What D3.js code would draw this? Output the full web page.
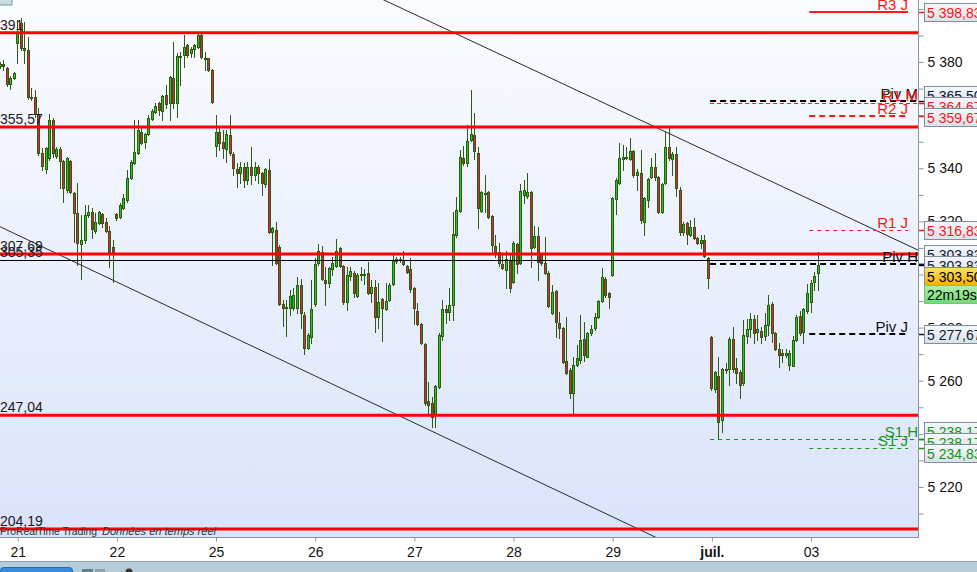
<!DOCTYPE html>
<html><head><meta charset="utf-8">
<script src="https://cdn.jsdelivr.net/npm/d3@7/dist/d3.min.js"></script>
<style>
html,body{margin:0;padding:0;background:#fff;overflow:hidden;}
svg{display:block;font-family:"Liberation Sans",Arial,sans-serif;}
</style></head><body>
<svg id="chart" width="977" height="572"></svg>
<script>
// ---------- DATA ----------
const opens = [5378.5,5379.2,5377.7,5371.7,5374.0,5387.1,5394.7,5385.2,5384.5,5366.8,
5366.8,5360.4,5345.7,5339.7,5343.8,5358.1,5344.6,5347.2,5342.7,5331.8,
5342.7,5330.6,5323.1,5311.4,5312.9,5322.4,5323.5,5316.3,5319.3,5322.8,
5319.7,5316.3,5310.3,5322.8,5321.6,5325.0,5328.0,5336.3,5341.9,5345.7,
5353.6,5349.8,5352.8,5358.5,5361.1,5364.5,5361.5,5367.5,5364.5,5373.9,
5364.5,5381.8,5382.6,5386.4,5383.3,5384.9,5385.6,5390.1,5381.5,5381.5,
5377.0,5348.3,5353.6,5349.8,5347.2,5352.5,5345.3,5339.7,5338.2,5340.4,
5335.5,5340.4,5337.4,5340.4,5338.2,5334.0,5339.3,5316.0,5316.7,5310.3,
5288.9,5287.3,5287.3,5287.3,5287.3,5296.0,5284.7,5272.3,5276.4,5288.9,
5304.3,5308.4,5297.9,5296.8,5302.0,5303.1,5309.9,5303.1,5289.6,5299.4,
5300.5,5291.9,5299.8,5300.1,5300.5,5293.0,5295.2,5283.9,5290.7,5287.0,
5290.4,5296.4,5305.0,5305.8,5305.4,5303.1,5302.0,5294.9,5286.2,5281.3,
5273.8,5252.3,5251.6,5247.1,5257.6,5276.8,5287.0,5285.8,5288.5,5314.8,
5323.9,5343.8,5341.9,5350.6,5352.5,5345.7,5323.9,5330.3,5331.0,5322.0,
5310.7,5308.4,5303.9,5301.7,5305.4,5297.1,5311.4,5304.3,5329.9,5329.5,
5331.0,5310.3,5314.5,5307.3,5304.3,5300.5,5285.5,5293.7,5281.7,5279.8,
5267.4,5264.0,5255.3,5265.9,5267.8,5275.7,5268.9,5277.9,5279.8,5283.9,
5290.0,5298.3,5293.0,5299.8,5328.4,5334.4,5343.4,5344.2,5343.4,5346.5,
5337.4,5338.2,5319.7,5328.0,5336.7,5340.4,5336.7,5323.5,5334.4,5348.0,
5343.4,5345.3,5331.8,5316.0,5319.3,5314.8,5317.8,5313.7,5311.8,5313.0,
5306.2,5276.4,5256.9,5261.8,5245.2,5264.4,5264.4,5275.7,5264.8,5263.2,
5259.1,5276.8,5279.4,5283.2,5278.3,5278.7,5276.8,5280.9,5288.9,5278.0,
5271.9,5270.4,5269.7,5265.9,5265.5,5275.3,5284.3,5278.3,5286.2,5289.6,
5297.1,5300.5];
const highs = [5380.0,5380.8,5378.1,5374.7,5376.2,5395.8,5396.5,5395.0,5389.4,5370.2,
5369.4,5362.6,5347.6,5348.0,5360.4,5358.9,5348.0,5348.0,5343.1,5344.2,
5343.1,5330.9,5334.4,5322.4,5326.1,5326.1,5325.0,5323.1,5323.8,5323.1,
5321.2,5318.2,5313.0,5323.1,5326.9,5330.3,5339.3,5343.1,5358.1,5358.1,
5355.1,5353.2,5360.0,5362.3,5364.5,5364.9,5367.5,5371.3,5374.7,5387.5,
5383.3,5383.7,5390.1,5386.7,5385.6,5386.6,5390.9,5390.9,5383.7,5381.7,
5377.3,5360.0,5355.1,5354.4,5354.4,5360.0,5346.1,5341.9,5342.3,5341.9,
5342.3,5348.0,5342.3,5341.2,5338.5,5340.0,5343.4,5317.8,5319.7,5311.1,
5290.4,5290.4,5294.1,5294.9,5299.0,5298.3,5285.8,5277.9,5297.9,5306.2,
5311.4,5310.7,5302.8,5302.8,5306.5,5313.3,5310.3,5303.5,5302.8,5302.8,
5301.3,5300.5,5302.8,5302.0,5304.7,5297.9,5297.9,5296.8,5291.1,5296.8,
5296.8,5307.3,5306.5,5306.5,5308.8,5303.5,5306.2,5295.2,5289.2,5281.7,
5274.2,5259.5,5253.8,5258.3,5277.9,5290.4,5288.5,5294.9,5323.5,5329.1,
5346.8,5348.3,5356.2,5369.4,5360.8,5348.0,5331.4,5337.4,5331.4,5322.4,
5314.8,5311.8,5308.0,5308.8,5307.3,5312.6,5311.8,5334.0,5335.5,5338.2,
5331.4,5318.2,5317.8,5308.0,5314.1,5301.3,5296.0,5294.1,5285.8,5280.2,
5284.0,5264.8,5268.9,5273.4,5284.7,5282.1,5278.3,5280.9,5285.5,5290.4,
5302.4,5299.0,5293.4,5329.1,5336.3,5349.5,5348.7,5348.0,5351.3,5346.8,
5339.7,5346.8,5329.1,5336.3,5343.8,5345.7,5337.0,5334.4,5353.6,5355.1,
5346.1,5348.0,5332.9,5319.7,5319.7,5320.5,5321.2,5314.1,5314.8,5314.8,
5306.5,5276.8,5263.6,5268.9,5264.8,5266.6,5276.4,5280.2,5268.5,5264.0,
5282.8,5283.2,5285.5,5284.7,5284.7,5280.2,5285.5,5292.2,5289.6,5278.3,
5274.2,5271.9,5271.9,5271.5,5276.8,5284.7,5286.2,5287.3,5296.4,5297.9,
5300.9,5308.4];
const lows = [5377.7,5377.0,5371.0,5369.8,5373.6,5379.6,5384.5,5379.6,5366.1,5365.7,
5359.3,5345.0,5339.3,5338.2,5343.1,5344.2,5343.8,5332.5,5327.2,5331.0,
5330.6,5312.2,5303.5,5298.3,5311.8,5321.6,5313.7,5315.6,5319.0,5317.8,
5316.0,5302.8,5297.1,5320.5,5321.4,5324.6,5327.2,5335.9,5341.6,5345.3,
5349.1,5347.6,5352.5,5358.1,5360.8,5360.0,5358.1,5362.6,5358.1,5362.6,
5359.3,5371.3,5378.1,5381.8,5381.8,5381.8,5385.2,5381.5,5377.0,5376.6,
5364.5,5344.6,5346.8,5343.8,5342.3,5344.9,5337.4,5332.9,5334.4,5332.9,
5334.0,5334.0,5335.5,5334.4,5329.9,5332.9,5315.6,5303.5,5303.9,5288.5,
5280.6,5276.8,5284.7,5286.6,5285.5,5279.8,5270.0,5271.9,5274.2,5288.1,
5303.5,5297.9,5288.5,5295.2,5299.8,5302.8,5302.8,5288.9,5286.6,5297.9,
5291.5,5291.5,5297.9,5296.4,5292.6,5289.6,5278.3,5279.8,5274.9,5286.6,
5290.0,5296.0,5304.3,5304.7,5303.5,5300.5,5293.4,5281.3,5280.9,5273.8,
5250.8,5247.1,5242.5,5242.5,5257.2,5275.3,5281.7,5282.9,5282.9,5314.1,
5323.5,5341.2,5340.8,5350.2,5343.4,5317.5,5323.5,5323.5,5321.2,5308.0,
5306.5,5303.1,5302.0,5294.9,5293.4,5296.8,5300.5,5303.9,5326.9,5328.8,
5302.8,5309.9,5297.9,5303.5,5300.1,5287.7,5285.1,5276.4,5276.0,5266.7,
5262.5,5253.5,5247.1,5265.5,5266.7,5267.4,5268.9,5277.2,5279.1,5283.5,
5289.6,5291.5,5287.3,5299.4,5322.7,5334.0,5339.3,5343.4,5343.1,5336.7,
5331.8,5319.3,5314.8,5325.4,5336.3,5335.5,5323.1,5323.1,5334.0,5343.1,
5337.4,5329.5,5314.8,5314.8,5311.4,5314.4,5313.3,5311.4,5309.9,5306.5,
5294.9,5256.5,5255.7,5238.0,5240.7,5262.9,5258.4,5263.2,5259.1,5253.5,
5258.4,5274.2,5276.4,5274.2,5275.3,5274.2,5275.3,5277.2,5274.5,5271.5,
5265.1,5267.0,5268.9,5264.0,5265.5,5274.9,5277.2,5274.2,5285.5,5285.8,
5294.2,5294.2];
const closes = [5379.2,5378.5,5371.7,5374.0,5375.9,5390.9,5385.2,5384.5,5366.8,5366.6,
5360.4,5345.7,5340.8,5347.6,5358.1,5345.7,5347.2,5342.7,5332.5,5343.8,
5331.0,5323.1,5311.8,5312.9,5322.4,5323.5,5317.1,5319.7,5323.5,5319.3,
5316.3,5308.4,5308.4,5321.2,5326.1,5328.8,5336.3,5342.3,5346.1,5354.4,
5349.5,5352.8,5358.9,5361.5,5363.4,5361.9,5367.2,5364.2,5374.3,5364.5,
5382.2,5382.2,5385.6,5382.6,5384.9,5386.4,5390.1,5381.8,5381.1,5377.0,
5364.9,5353.6,5349.5,5347.6,5352.8,5345.7,5340.1,5338.2,5340.4,5335.5,
5340.4,5337.4,5340.4,5338.2,5334.4,5339.7,5316.0,5317.5,5304.3,5288.9,
5287.3,5287.7,5291.9,5292.2,5296.0,5285.5,5272.3,5277.2,5287.0,5303.9,
5308.8,5298.3,5296.8,5302.4,5304.3,5308.8,5303.1,5289.6,5299.8,5301.3,
5293.0,5299.8,5300.1,5299.8,5293.0,5295.2,5283.9,5289.6,5287.3,5290.0,
5296.0,5305.4,5305.8,5305.4,5303.9,5300.9,5294.5,5287.3,5281.3,5274.2,
5251.6,5250.8,5246.3,5258.0,5277.2,5287.0,5285.8,5288.5,5315.2,5324.3,
5344.2,5341.9,5350.2,5352.8,5346.5,5325.0,5331.0,5330.6,5321.6,5311.1,
5308.4,5304.3,5302.4,5305.8,5294.9,5311.8,5303.9,5331.4,5331.8,5331.0,
5309.9,5314.5,5304.7,5304.3,5300.5,5288.1,5293.4,5282.1,5279.8,5267.0,
5262.9,5255.3,5265.9,5268.5,5275.3,5269.7,5277.9,5279.4,5283.9,5290.0,
5299.0,5292.2,5291.5,5328.8,5335.5,5343.8,5344.2,5344.0,5346.5,5337.4,
5338.5,5320.5,5328.8,5335.9,5340.4,5336.7,5323.5,5334.0,5348.0,5343.8,
5345.3,5332.5,5316.0,5319.0,5315.2,5317.8,5313.7,5311.8,5313.0,5306.9,
5298.6,5257.2,5263.3,5244.4,5264.4,5264.0,5275.7,5264.4,5262.9,5258.3,
5277.2,5279.4,5283.2,5277.9,5279.4,5276.4,5280.9,5288.5,5278.0,5271.9,
5269.7,5269.7,5270.4,5270.4,5275.3,5284.0,5277.9,5287.0,5293.0,5296.8,
5299.4,5303.5];

const dayLabels = ["21","22","25","26","27","28","29","juil.","03"];
const dayStarts = [5,33,61,89,117,145,173,201,229];

const srValues = [5391.00, 5355.57, 5307.69, 5247.04, 5204.19];
const srLabels = ["5 391","5 355,57","5 307,69","5 247,04","5 204,19"];
const midValue = 5305.35;
const midLabel = "5 305,35";

const trendUpper = [[156.7, 5373.2],[259.2, 5309.2]];
const trendLower = [[0, 5318.0],[183.5, 5202.1]];

const pivotNames  = ["R3 J","Piv M","R1 M","R2 J","R1 J","Piv H","Piv J","S1 H","S1 J"];
const pivotValues = [5398.83,5365.50,5364.67,5359.67,5316.83,5303.83,5277.67,5238.17,5234.83];

const boxValues = [5398.83,5365.50,5364.67,5359.67,5316.83,5303.83,5303.83,5303.50,5277.67,5238.17,5238.17,5234.83];
const boxKinds  = ["R","P","R","R","R","P","P","last","P","S","S","S"];
const timerText = "22m19s";

const yLabelTicks = [5220,5240,5260,5280,5300,5320,5340,5360,5380,5400];
const yMinorTicks = [5210,5230,5250,5270,5290,5310,5330,5350,5370,5390];

// ---------- LAYOUT ----------
const svg = d3.select("#chart");
const PR = 918, PB = 537;
const x = d3.scaleLinear().domain([0, 259.2]).range([0, PR]);
const y = d3.scaleLinear().domain([5200, 5400]).range([540.1, 8.9]);
const fr = d3.formatLocale({decimal:",", thousands:" ", grouping:[3], currency:["","€"]});
const f2 = fr.format(",.2f"), f0 = fr.format(",d");

const defs = svg.append("defs");
const bg = defs.append("linearGradient").attr("id","bg").attr("x1",0).attr("y1",0).attr("x2",0).attr("y2",1);
bg.append("stop").attr("offset","0%").attr("stop-color","#fbfcff");
bg.append("stop").attr("offset","100%").attr("stop-color","#dae3fb");
const gb = defs.append("linearGradient").attr("id","boxg").attr("x1",0).attr("y1",0).attr("x2",0).attr("y2",1);
gb.append("stop").attr("offset","0%").attr("stop-color","#f6f8fb");
gb.append("stop").attr("offset","100%").attr("stop-color","#d9e1ea");
const gy = defs.append("linearGradient").attr("id","yel").attr("x1",0).attr("y1",0).attr("x2",0).attr("y2",1);
gy.append("stop").attr("offset","0%").attr("stop-color","#ffe066");
gy.append("stop").attr("offset","100%").attr("stop-color","#f0b400");
const gg = defs.append("linearGradient").attr("id","grn").attr("x1",0).attr("y1",0).attr("x2",0).attr("y2",1);
gg.append("stop").attr("offset","0%").attr("stop-color","#aef0ae");
gg.append("stop").attr("offset","100%").attr("stop-color","#74d874");
defs.append("clipPath").attr("id","plotclip").append("rect").attr("x",0).attr("y",0).attr("width",PR).attr("height",PB);

svg.append("rect").attr("width",977).attr("height",572).attr("fill","#fff");
svg.append("rect").attr("x",0).attr("y",0).attr("width",PR).attr("height",PB).attr("fill","url(#bg)");

const plot = svg.append("g").attr("clip-path","url(#plotclip)");

// candles
const candles = d3.range(opens.length).map(i => ({i, o:opens[i], h:highs[i], l:lows[i], c:closes[i]}));
const cg = plot.append("g");
candles.forEach(d => {
  const cx = x(d.i);
  const left = Math.round(cx - 1.5);
  const wx = left + 1.5;
  cg.append("line").attr("x1",wx).attr("x2",wx)
    .attr("y1",Math.round(y(d.h))).attr("y2",Math.round(y(d.l))+1)
    .attr("stroke","#2f5a12").attr("stroke-width",1);
  const yt = Math.round(y(Math.max(d.o,d.c))), yb = Math.round(y(Math.min(d.o,d.c)));
  cg.append("rect").attr("x",left+0.5).attr("y",yt+0.5)
    .attr("width",2).attr("height",Math.max(yb-yt,1))
    .attr("fill", d.c >= d.o ? "#1ecb1e" : "#e8203f")
    .attr("stroke","#2f5a12").attr("stroke-width",1);
});

// trend lines (extended across the x domain)
function extend(pts){
  const [[i1,v1],[i2,v2]] = pts; const s=(v2-v1)/(i2-i1);
  const d0=x.domain()[0], d1=x.domain()[1];
  return [[d0, v1+(d0-i1)*s],[d1, v1+(d1-i1)*s]];
}
[trendUpper, trendLower].forEach(t => {
  const e = extend(t);
  plot.append("line").attr("x1",x(e[0][0])).attr("y1",y(e[0][1])).attr("x2",x(e[1][0])).attr("y2",y(e[1][1]))
    .attr("stroke","#2a2a2a").attr("stroke-width",1);
});

// mid black line
plot.append("line").attr("x1",0).attr("x2",PR).attr("y1",Math.round(y(midValue))+0.5).attr("y2",Math.round(y(midValue))+0.5)
  .attr("stroke","#000").attr("stroke-width",1);
// red support / resistance lines
srValues.forEach(v => {
  plot.append("line").attr("x1",0).attr("x2",PR).attr("y1",y(v)).attr("y2",y(v))
    .attr("stroke","#ff0000").attr("stroke-width",3);
});

// left labels (partially cut at the left edge)
function measure(t){ const n=svg.append("text").attr("font-size",14).style("white-space","pre").text(t); const w=n.node().getComputedTextLength(); n.remove(); return w; }
const leftLabels = srLabels.map((l,k)=>({l, v:srValues[k]})).concat([{l:midLabel, v:midValue}]);
leftLabels.forEach(d => {
  const off = measure(d.l) - measure(d.l.slice(2));
  plot.append("text").attr("x",-off).attr("y",y(d.v)-3).attr("font-size",14).attr("fill","#1a1a1a")
    .style("white-space","pre").text(d.l);
});

// pivot lines
const pivotStyle = {
  "R3 J":{c:"#ff1a1a", w:2, dash:null},
  "Piv M":{c:"#000", w:2, dash:"6,4"},
  "R1 M":{c:"#ff1a1a", w:1, dash:"4,3"},
  "R2 J":{c:"#ff1a1a", w:2, dash:"6,4"},
  "R1 J":{c:"#ff1a1a", w:1, dash:"4,4"},
  "Piv H":{c:"#000", w:2, dash:"6,4"},
  "Piv J":{c:"#000", w:2, dash:"6,4"},
  "S1 H":{c:"#109a10", w:1, dash:"4,4"},
  "S1 J":{c:"#109a10", w:1, dash:"4,4"}
};
const textCol = {"R":"#ff1414","P":"#0c1424","S":"#139a13"};
pivotNames.forEach((n,k) => {
  const st = pivotStyle[n];
  const daily = n.endsWith("J");
  const startIdx = daily ? dayStarts[dayStarts.length-1] : dayStarts[dayStarts.length-2];
  const x0 = x(startIdx) - 1.8, x1 = daily ? PR - 10 : PR;
  const yy = Math.round(y(pivotValues[k])) + (st.w===1?0.5:0);
  const ln = plot.append("line").attr("x1",x0).attr("x2",x1).attr("y1",yy).attr("y2",yy)
    .attr("stroke",st.c).attr("stroke-width",st.w);
  if (st.dash) ln.attr("stroke-dasharray",st.dash);
  const txtColor = n.startsWith("R") ? textCol.R : n.startsWith("S") ? textCol.S : "#111";
  plot.append("text").attr("x",x1).attr("y",yy-2.5).attr("text-anchor","end")
    .attr("font-size",15).attr("fill",txtColor).text(n);
});

// bottom-left caption
const cap = plot.append("g").attr("font-size",11.5).attr("fill","#333");
cap.append("text").attr("x",0).attr("y",535).attr("textLength",97).attr("lengthAdjust","spacingAndGlyphs").text("ProRealTime Trading");
cap.append("text").attr("x",102).attr("y",535).attr("font-style","italic").attr("textLength",114).attr("lengthAdjust","spacingAndGlyphs").text("Données en temps réel");

// bottom border
svg.append("line").attr("x1",0).attr("x2",PR+1).attr("y1",PB+0.5).attr("y2",PB+0.5).attr("stroke","#8796a0");

// x axis
const xa = svg.append("g").attr("transform",`translate(0,${PB+0.5})`)
  .call(d3.axisBottom(x).tickValues(dayStarts).tickFormat((d,i)=>dayLabels[i]).tickSize(4).tickPadding(6));
xa.select(".domain").remove();
xa.selectAll(".tick line").attr("stroke","#8796a0");
xa.selectAll(".tick text").attr("font-size",14).attr("fill","#111").attr("font-family","Liberation Sans, Arial, sans-serif")
  .attr("font-weight",(d,i)=>dayLabels[i]==="juil."?"bold":"normal");

// y axis
const ya2 = svg.append("g").attr("transform",`translate(${PR+0.5},0)`)
  .call(d3.axisRight(y).tickValues(yMinorTicks).tickSize(5).tickFormat(""));
ya2.select(".domain").remove();
ya2.selectAll(".tick line").attr("stroke","#8796a0");
const ya = svg.append("g").attr("transform",`translate(${PR+0.5},0)`)
  .call(d3.axisRight(y).tickValues(yLabelTicks).tickSize(5).tickPadding(4).tickFormat(d=>f0(d)));
ya.select(".domain").remove();
ya.selectAll(".tick line").attr("stroke","#8796a0");
ya.selectAll(".tick text").attr("font-size",14).attr("fill","#111").attr("font-family","Liberation Sans, Arial, sans-serif");
svg.append("line").attr("x1",PR+0.5).attr("x2",PR+0.5).attr("y1",0).attr("y2",PB+1).attr("stroke","#8796a0");

// right-axis value boxes with simple cluster spreading
function spread(ys, gap){
  let cl = ys.map((v,i)=>({ys:[v], idx:[i], c:v}));
  let changed = true;
  while(changed){
    changed=false;
    for(let i=0;i<cl.length-1;i++){
      const a=cl[i], b=cl[i+1];
      const aB=a.c+(a.idx.length-1)*gap/2, bT=b.c-(b.idx.length-1)*gap/2;
      if(bT-aB<gap){
        const ys2=a.ys.concat(b.ys);
        cl.splice(i,2,{ys:ys2, idx:a.idx.concat(b.idx), c:d3.mean(ys2)});
        changed=true; break;
      }
    }
  }
  const out=[];
  cl.forEach(c=>{const n=c.idx.length; c.idx.forEach((k,j)=>{out[k]=c.c+(j-(n-1)/2)*gap;});});
  return out;
}
const ideal = boxValues.map(v=>y(v));
const centers = spread(ideal, 11);
const BH = 18;
const kindColor = {"R":"#ff1414","P":"#0c1a33","S":"#119611","last":"#000"};
boxValues.forEach((v,k) => {
  const kind = boxKinds[k];
  svg.append("line").attr("x1",PR+1).attr("x2",PR+6).attr("y1",Math.round(y(v))+0.5).attr("y2",Math.round(y(v))+0.5)
    .attr("stroke", kind==="last"?"#000":kindColor[kind]).attr("stroke-width",1.5);
  const top = Math.round(centers[k]-BH/2)+0.5;
  svg.append("rect").attr("x",924.5).attr("y",top).attr("width",60).attr("height",BH)
    .attr("fill", kind==="last" ? "url(#yel)" : "url(#boxg)").attr("stroke","#7d8f9c");
  svg.append("text").attr("x",927).attr("y",top+BH/2+5).attr("font-size",14)
    .attr("fill",kindColor[kind]).text(f2(v));
  if(kind==="last"){
    svg.append("rect").attr("x",924.5).attr("y",top+BH).attr("width",60).attr("height",BH)
      .attr("fill","url(#grn)").attr("stroke","#7fc07f");
    svg.append("text").attr("x",927).attr("y",top+BH+BH/2+5).attr("font-size",14).attr("fill","#000").text(timerText);
  }
});

// top-left fragment and bottom toolbar strip
svg.append("rect").attr("x",-2).attr("y",-8).attr("width",14).attr("height",13).attr("fill","#c9dbe3").attr("stroke","#6f9a8f");
svg.append("rect").attr("x",0).attr("y",561).attr("width",977).attr("height",11).attr("fill","#b3ced9");
svg.append("line").attr("x1",0).attr("x2",977).attr("y1",561.5).attr("y2",561.5).attr("stroke","#8aa3ae");
svg.append("rect").attr("x",0.5).attr("y",567.5).attr("width",72).attr("height",10).attr("rx",3).attr("fill","#3a8cd8").attr("stroke","#2a6aa8");
svg.append("rect").attr("x",82).attr("y",569).attr("width",11).attr("height",6).attr("fill","#5f7f8e");
svg.append("rect").attr("x",95).attr("y",569).attr("width",10).attr("height",6).attr("fill","#8aa0aa");
svg.append("circle").attr("cx",129).attr("cy",572).attr("r",3.5).attr("fill","#333");
</script>
</body></html>
